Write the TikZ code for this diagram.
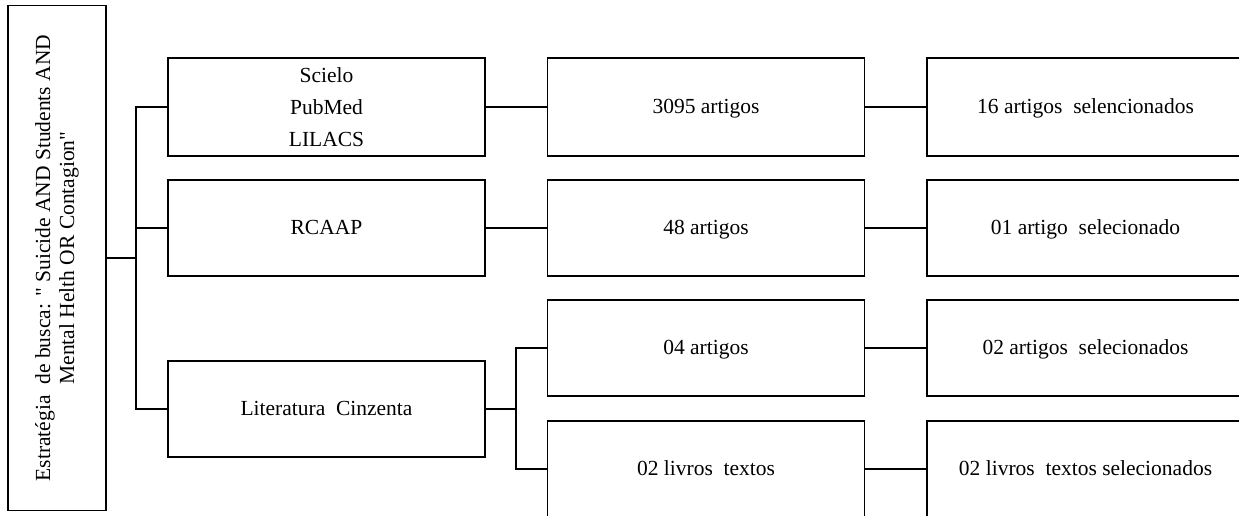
\documentclass[tikz,border=0pt]{standalone}
\usepackage{fontspec}
\setmainfont{Liberation Serif}[Ligatures=TeXOff]
\newcommand{\wsp}{\hspace{0.5em}}
\begin{document}
\begin{tikzpicture}[x=1pt,y=-1pt,
  box/.style={draw, line width=1.4pt, minimum width=317pt, minimum height=97pt,
    inner sep=0pt, align=center, font=\fontsize{21.5}{32}\selectfont},
  oneline/.style={text height=15pt, text depth=2pt},
  conn/.style={line width=1.4pt}]
\useasboundingbox (0,0) rectangle (1239,515);
\clip (0,0) rectangle (1239,515);
\fill[white] (0,0) rectangle (1239,515);
% left box (rotated)
\node[draw, line width=1.4pt, rotate=90, minimum width=505pt, minimum height=98pt,
  inner sep=0pt, align=center, font=\fontsize{21.5}{24}\selectfont] (L) at (57,258)
  {Estratégia\wsp de busca: " Suicide AND Students AND\\ Mental Helth OR Contagion"};
% first column
\node[box, minimum height=98pt] (S1) at (326.5,107) {Scielo\\PubMed\\LILACS};
\node[box, oneline, minimum height=96pt] (S2) at (326.5,228) {RCAAP};
\node[box, oneline, minimum height=96pt] (S3) at (326.5,409) {Literatura\wsp Cinzenta};
% second column
\node[box, oneline, minimum height=98pt] (M1) at (706,107) {3095 artigos};
\node[box, oneline, minimum height=96pt] (M2) at (706,228) {48 artigos};
\node[box, oneline, minimum height=96pt] (M3) at (706,348) {04 artigos};
\node[box, oneline, minimum height=96pt] (M4) at (706,469) {02 livros\wsp textos};
% third column
\node[box, oneline, minimum height=98pt] (R1) at (1085.5,107) {16 artigos\wsp selencionados};
\node[box, oneline, minimum height=96pt] (R2) at (1085.5,228) {01 artigo\wsp selecionado};
\node[box, oneline, minimum height=96pt] (R3) at (1085.5,348) {02 artigos\wsp selecionados};
\node[box, oneline, minimum height=96pt] (R4) at (1085.5,469) {02 livros\wsp textos selecionados};
% connectors from left box
\coordinate (j1) at (136,258);
\draw[conn] (L.south) -- (j1);
\draw[conn] (S1.west) -- (S1.west -| j1) -- (S3.west -| j1) -- (S3.west);
\draw[conn] (S2.west) -- (S2.west -| j1);
% literatura split
\coordinate (j2) at (516,409);
\draw[conn] (S3.east) -- (j2);
\draw[conn] (M3.west) -- (M3.west -| j2) -- (M4.west -| j2) -- (M4.west);
% straight connectors
\draw[conn] (S1.east) -- (M1.west);
\draw[conn] (S2.east) -- (M2.west);
\draw[conn] (M1.east) -- (R1.west);
\draw[conn] (M2.east) -- (R2.west);
\draw[conn] (M3.east) -- (R3.west);
\draw[conn] (M4.east) -- (R4.west);
\end{tikzpicture}
\end{document}
